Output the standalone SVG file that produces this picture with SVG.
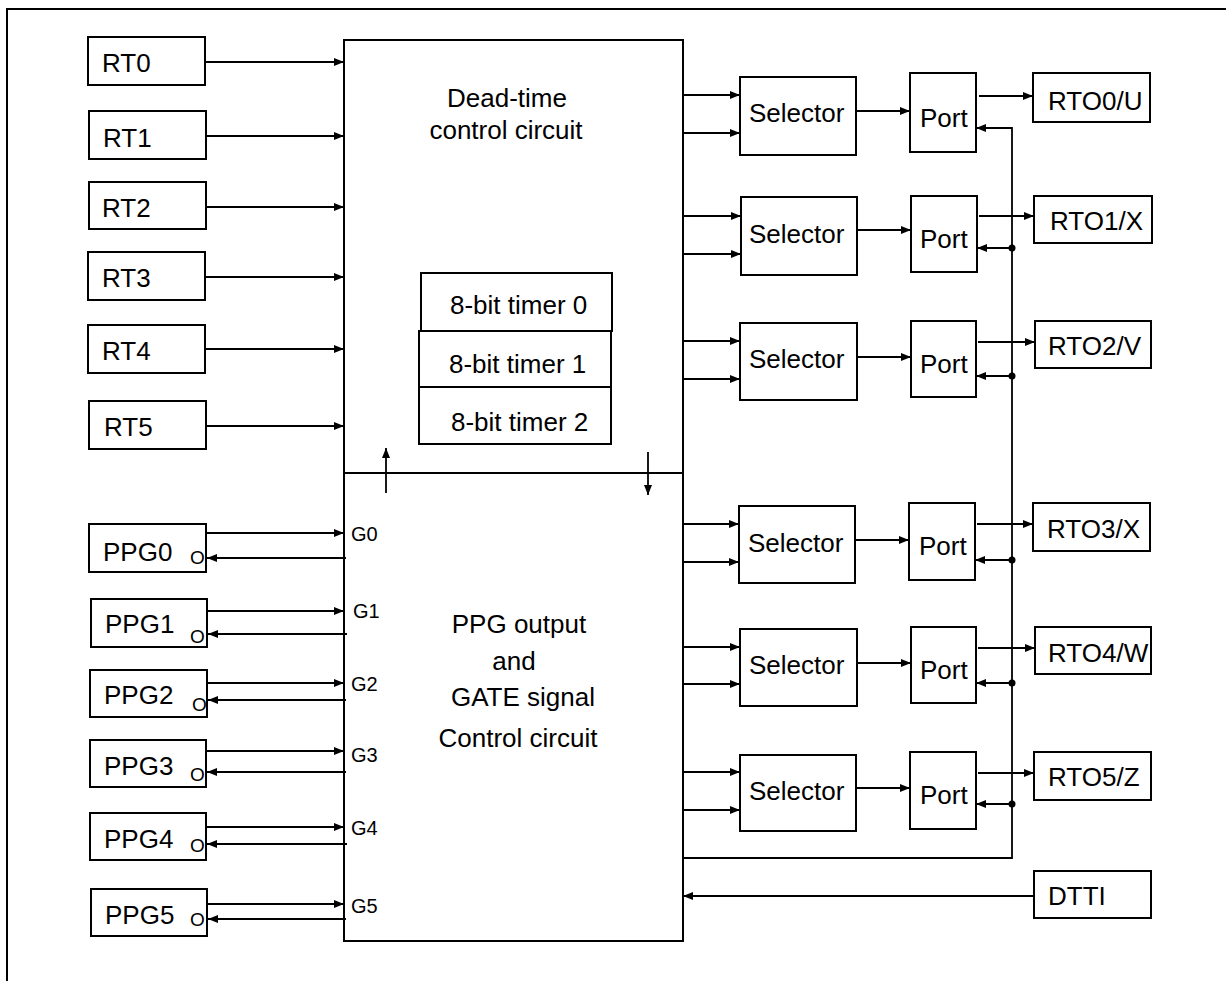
<svg xmlns="http://www.w3.org/2000/svg" width="1226" height="981" viewBox="0 0 1226 981">
<defs>
<marker id="ah" markerUnits="userSpaceOnUse" markerWidth="11" markerHeight="9" refX="10" refY="4.5" orient="auto">
<path d="M0,0.5 L10,4.5 L0,8.5 z" fill="#000"/>
</marker>
<style>
.b{fill:#fff;stroke:#000;stroke-width:2}
.t{font-family:"Liberation Sans",Arial,sans-serif;font-size:26px;fill:#000}
.s{font-family:"Liberation Sans",Arial,sans-serif;font-size:20px;fill:#000}
.o{font-family:"Liberation Sans",Arial,sans-serif;font-size:19px;fill:#000}
.c{text-anchor:middle}
.a{fill:none;stroke:#000;stroke-width:1.8;marker-end:url(#ah)}
</style>
</defs>
<rect x="0" y="0" width="1226" height="981" fill="#fff"/>
<path d="M7,981 V9 H1226" fill="none" stroke="#000" stroke-width="2"/>

<g id="deadtime">
<rect class="b" x="344" y="40" width="339" height="433"/>
<text class="t c" x="507" y="107">Dead-time</text>
<text class="t c" x="506" y="139">control circuit</text>
</g>
<g id="ppgctl">
<rect class="b" x="344" y="473" width="339" height="468"/>
<text class="t c" x="519" y="633">PPG output</text>
<text class="t c" x="514" y="670">and</text>
<text class="t c" x="523" y="706">GATE signal</text>
<text class="t c" x="518" y="747">Control circuit</text>
<text class="s" x="351" y="541">G0</text>
<text class="s" x="353" y="618">G1</text>
<text class="s" x="351" y="691">G2</text>
<text class="s" x="351" y="762">G3</text>
<text class="s" x="351" y="835">G4</text>
<text class="s" x="351" y="913">G5</text>
</g>
<g id="timer0"><rect class="b" x="421" y="273" width="191" height="58"/><text class="t" x="450" y="314">8-bit timer 0</text></g>
<g id="timer1"><rect class="b" x="419" y="331" width="192" height="56"/><text class="t" x="449" y="373">8-bit timer 1</text></g>
<g id="timer2"><rect class="b" x="419" y="387" width="192" height="57"/><text class="t" x="451" y="431">8-bit timer 2</text></g>

<g id="rt0"><rect class="b" x="88" y="37" width="117" height="48"/><text class="t" x="102" y="72">RT0</text></g>
<g id="rt1"><rect class="b" x="89" y="111" width="117" height="48"/><text class="t" x="103" y="147">RT1</text></g>
<g id="rt2"><rect class="b" x="89" y="182" width="117" height="47"/><text class="t" x="102" y="217">RT2</text></g>
<g id="rt3"><rect class="b" x="88" y="252" width="117" height="48"/><text class="t" x="102" y="287">RT3</text></g>
<g id="rt4"><rect class="b" x="88" y="325" width="117" height="48"/><text class="t" x="102" y="360">RT4</text></g>
<g id="rt5"><rect class="b" x="89" y="401" width="117" height="48"/><text class="t" x="104" y="436">RT5</text></g>

<g id="ppg0"><rect class="b" x="89" y="524" width="117" height="48"/><text class="t" x="103" y="561">PPG0</text><text class="o" x="190" y="564">O</text></g>
<g id="ppg1"><rect class="b" x="91" y="599" width="116" height="48"/><text class="t" x="105" y="633">PPG1</text><text class="o" x="190" y="643">O</text></g>
<g id="ppg2"><rect class="b" x="90" y="670" width="117" height="47"/><text class="t" x="104" y="704">PPG2</text><text class="o" x="192" y="711">O</text></g>
<g id="ppg3"><rect class="b" x="90" y="740" width="116" height="47"/><text class="t" x="104" y="775">PPG3</text><text class="o" x="190" y="781">O</text></g>
<g id="ppg4"><rect class="b" x="90" y="813" width="116" height="47"/><text class="t" x="104" y="848">PPG4</text><text class="o" x="190" y="852">O</text></g>
<g id="ppg5"><rect class="b" x="91" y="889" width="116" height="47"/><text class="t" x="105" y="924">PPG5</text><text class="o" x="190" y="926">O</text></g>

<g id="sel0"><rect class="b" x="740" y="77" width="116" height="78"/><text class="t" x="749" y="122">Selector</text></g>
<g id="sel1"><rect class="b" x="741" y="197" width="116" height="78"/><text class="t" x="749" y="243">Selector</text></g>
<g id="sel2"><rect class="b" x="740" y="323" width="117" height="77"/><text class="t" x="749" y="368">Selector</text></g>
<g id="sel3"><rect class="b" x="739" y="506" width="116" height="77"/><text class="t" x="748" y="552">Selector</text></g>
<g id="sel4"><rect class="b" x="740" y="629" width="117" height="77"/><text class="t" x="749" y="674">Selector</text></g>
<g id="sel5"><rect class="b" x="740" y="755" width="116" height="76"/><text class="t" x="749" y="800">Selector</text></g>

<g id="port0"><rect class="b" x="910" y="73" width="66" height="79"/><text class="t" x="920" y="127">Port</text></g>
<g id="port1"><rect class="b" x="911" y="196" width="66" height="76"/><text class="t" x="920" y="248">Port</text></g>
<g id="port2"><rect class="b" x="911" y="321" width="65" height="76"/><text class="t" x="920" y="373">Port</text></g>
<g id="port3"><rect class="b" x="909" y="503" width="66" height="77"/><text class="t" x="919" y="555">Port</text></g>
<g id="port4"><rect class="b" x="911" y="627" width="65" height="76"/><text class="t" x="920" y="679">Port</text></g>
<g id="port5"><rect class="b" x="910" y="752" width="66" height="77"/><text class="t" x="920" y="804">Port</text></g>

<g id="rto0"><rect class="b" x="1033" y="73" width="117" height="49"/><text class="t" x="1048" y="110">RTO0/U</text></g>
<g id="rto1"><rect class="b" x="1034" y="196" width="118" height="47"/><text class="t" x="1050" y="230">RTO1/X</text></g>
<g id="rto2"><rect class="b" x="1035" y="321" width="116" height="47"/><text class="t" x="1048" y="355">RTO2/V</text></g>
<g id="rto3"><rect class="b" x="1033" y="503" width="117" height="48"/><text class="t" x="1047" y="538">RTO3/X</text></g>
<g id="rto4"><rect class="b" x="1035" y="627" width="116" height="47"/><text class="t" x="1048" y="662">RTO4/W</text></g>
<g id="rto5"><rect class="b" x="1034" y="752" width="117" height="48"/><text class="t" x="1048" y="786">RTO5/Z</text></g>
<g id="dtti"><rect class="b" x="1034" y="871" width="117" height="47"/><text class="t" x="1048" y="905">DTTI</text></g>

<g id="connectors">
<line class="a" x1="205" y1="62" x2="344" y2="62"/>
<line class="a" x1="206" y1="136" x2="344" y2="136"/>
<line class="a" x1="206" y1="207" x2="344" y2="207"/>
<line class="a" x1="205" y1="277" x2="344" y2="277"/>
<line class="a" x1="205" y1="349" x2="344" y2="349"/>
<line class="a" x1="206" y1="426" x2="344" y2="426"/>

<line class="a" x1="206" y1="533" x2="344" y2="533"/>
<line class="a" x1="346" y1="558" x2="207" y2="558"/>
<line class="a" x1="207" y1="611" x2="344" y2="611"/>
<line class="a" x1="347" y1="634" x2="208" y2="634"/>
<line class="a" x1="207" y1="683" x2="344" y2="683"/>
<line class="a" x1="346" y1="700" x2="208" y2="700"/>
<line class="a" x1="206" y1="751" x2="344" y2="751"/>
<line class="a" x1="346" y1="772" x2="207" y2="772"/>
<line class="a" x1="206" y1="827" x2="344" y2="827"/>
<line class="a" x1="347" y1="844" x2="207" y2="844"/>
<line class="a" x1="207" y1="904" x2="344" y2="904"/>
<line class="a" x1="346" y1="919" x2="208" y2="919"/>

<line class="a" x1="386" y1="493" x2="386" y2="448"/>
<line class="a" x1="648" y1="452" x2="648" y2="495"/>

<line class="a" x1="683" y1="95" x2="740" y2="95"/>
<line class="a" x1="683" y1="133" x2="740" y2="133"/>
<line class="a" x1="683" y1="216" x2="741" y2="216"/>
<line class="a" x1="683" y1="254" x2="741" y2="254"/>
<line class="a" x1="683" y1="341" x2="740" y2="341"/>
<line class="a" x1="683" y1="379" x2="740" y2="379"/>
<line class="a" x1="683" y1="524" x2="739" y2="524"/>
<line class="a" x1="683" y1="562" x2="739" y2="562"/>
<line class="a" x1="683" y1="647" x2="740" y2="647"/>
<line class="a" x1="683" y1="684" x2="740" y2="684"/>
<line class="a" x1="683" y1="772" x2="740" y2="772"/>
<line class="a" x1="683" y1="810" x2="740" y2="810"/>

<line class="a" x1="856" y1="111" x2="910" y2="111"/>
<line class="a" x1="857" y1="230" x2="911" y2="230"/>
<line class="a" x1="857" y1="357" x2="911" y2="357"/>
<line class="a" x1="855" y1="540" x2="909" y2="540"/>
<line class="a" x1="857" y1="663" x2="911" y2="663"/>
<line class="a" x1="856" y1="788" x2="910" y2="788"/>

<line class="a" x1="979" y1="96" x2="1033" y2="96"/>
<line class="a" x1="979" y1="216" x2="1034" y2="216"/>
<line class="a" x1="978" y1="342" x2="1035" y2="342"/>
<line class="a" x1="977" y1="524" x2="1033" y2="524"/>
<line class="a" x1="978" y1="648" x2="1035" y2="648"/>
<line class="a" x1="978" y1="773" x2="1034" y2="773"/>

<path class="a" d="M683,858 H1012 V128 H976"/>
<line class="a" x1="1012" y1="248" x2="977" y2="248"/>
<line class="a" x1="1012" y1="376" x2="976" y2="376"/>
<line class="a" x1="1012" y1="560" x2="975" y2="560"/>
<line class="a" x1="1012" y1="683" x2="976" y2="683"/>
<line class="a" x1="1012" y1="804" x2="976" y2="804"/>
<circle cx="1012" cy="248" r="3.5" fill="#000"/>
<circle cx="1012" cy="376" r="3.5" fill="#000"/>
<circle cx="1012" cy="560" r="3.5" fill="#000"/>
<circle cx="1012" cy="683" r="3.5" fill="#000"/>
<circle cx="1012" cy="804" r="3.5" fill="#000"/>

<line class="a" x1="1034" y1="896" x2="683" y2="896"/>
</g>
</svg>
